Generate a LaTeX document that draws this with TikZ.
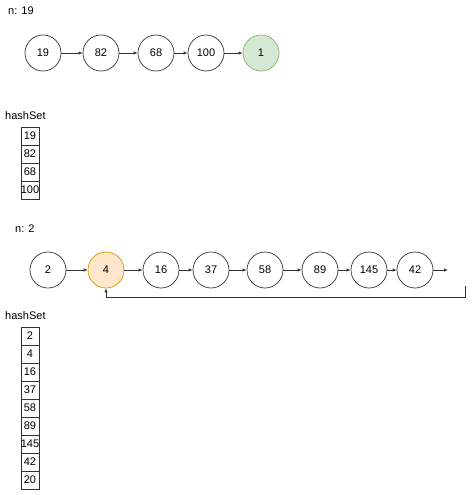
\documentclass[tikz,border=0pt]{standalone}
\usepackage{fontspec}
\setmainfont{Liberation Sans}
\usetikzlibrary{arrows.meta}
\definecolor{gfill}{HTML}{D5E8D4}
\definecolor{gdraw}{HTML}{82B366}
\definecolor{ofill}{HTML}{FFE6CC}
\definecolor{odraw}{HTML}{D79B00}
\definecolor{lin}{HTML}{333333}
\tikzset{
  nd/.style={circle,draw=lin,line width=0.7pt,minimum size=36pt,inner sep=0pt,font=\fontsize{11}{13}\selectfont},
  hit/.style={nd,fill=gfill,draw=gdraw},
  cyc/.style={nd,fill=ofill,draw=odraw},
  cell/.style={rectangle,draw=lin,line width=0.6pt,minimum width=18pt,minimum height=18pt,inner sep=0pt,font=\fontsize{11}{13}\selectfont},
  lbl/.style={anchor=west,inner sep=0pt,font=\fontsize{11}{13}\selectfont},
  ar/.style={draw=lin,line width=0.7pt,-{Latex[length=4pt,width=3.5pt]}}
}
\begin{document}
\begin{tikzpicture}[x=1pt,y=-1pt]
\useasboundingbox (0,0) rectangle (474,495);
% first list
\node[lbl] (n1) at (8,11) {n: 19};
\node[nd] (a1) at (43,53) {19};
\node[nd] (a2) at (101,53) {82};
\node[nd] (a3) at (156,53) {68};
\node[nd] (a4) at (206,53) {100};
\node[hit] (a5) at (261,53) {1};
\draw[ar] (a1) -- (a2);
\draw[ar] (a2) -- (a3);
\draw[ar] (a3) -- (a4);
\draw[ar] (a4) -- (a5);
% first hashSet
\node[lbl] (h1) at (5,116) {hashSet};
\foreach \v [count=\i from 0] in {19,82,68,100}
  \node[cell] (s1\i) at (30,136+18*\i) {\v};
% second list
\node[lbl] (n2) at (15,229) {n: 2};
\node[nd] (b1) at (48,270) {2};
\node[cyc] (b2) at (106,270) {4};
\node[nd] (b3) at (161,270) {16};
\node[nd] (b4) at (211,270) {37};
\node[nd] (b5) at (265,270) {58};
\node[nd] (b6) at (320,270) {89};
\node[nd] (b7) at (369,270) {145};
\node[nd] (b8) at (415,270) {42};
\coordinate (e1) at (448,270);
\coordinate (e2) at (465,286);
\draw[ar] (b1) -- (b2);
\draw[ar] (b2) -- (b3);
\draw[ar] (b3) -- (b4);
\draw[ar] (b4) -- (b5);
\draw[ar] (b5) -- (b6);
\draw[ar] (b6) -- (b7);
\draw[ar] (b7) -- (b8);
\draw[ar] (b8) -- (e1);
\draw[ar] (e2) |- (106,297) -- (b2.south);
% second hashSet
\node[lbl] (h2) at (5,316) {hashSet};
\foreach \v [count=\i from 0] in {2,4,16,37,58,89,145,42,20}
  \node[cell] (s2\i) at (30,336+18*\i) {\v};
\end{tikzpicture}
\end{document}
